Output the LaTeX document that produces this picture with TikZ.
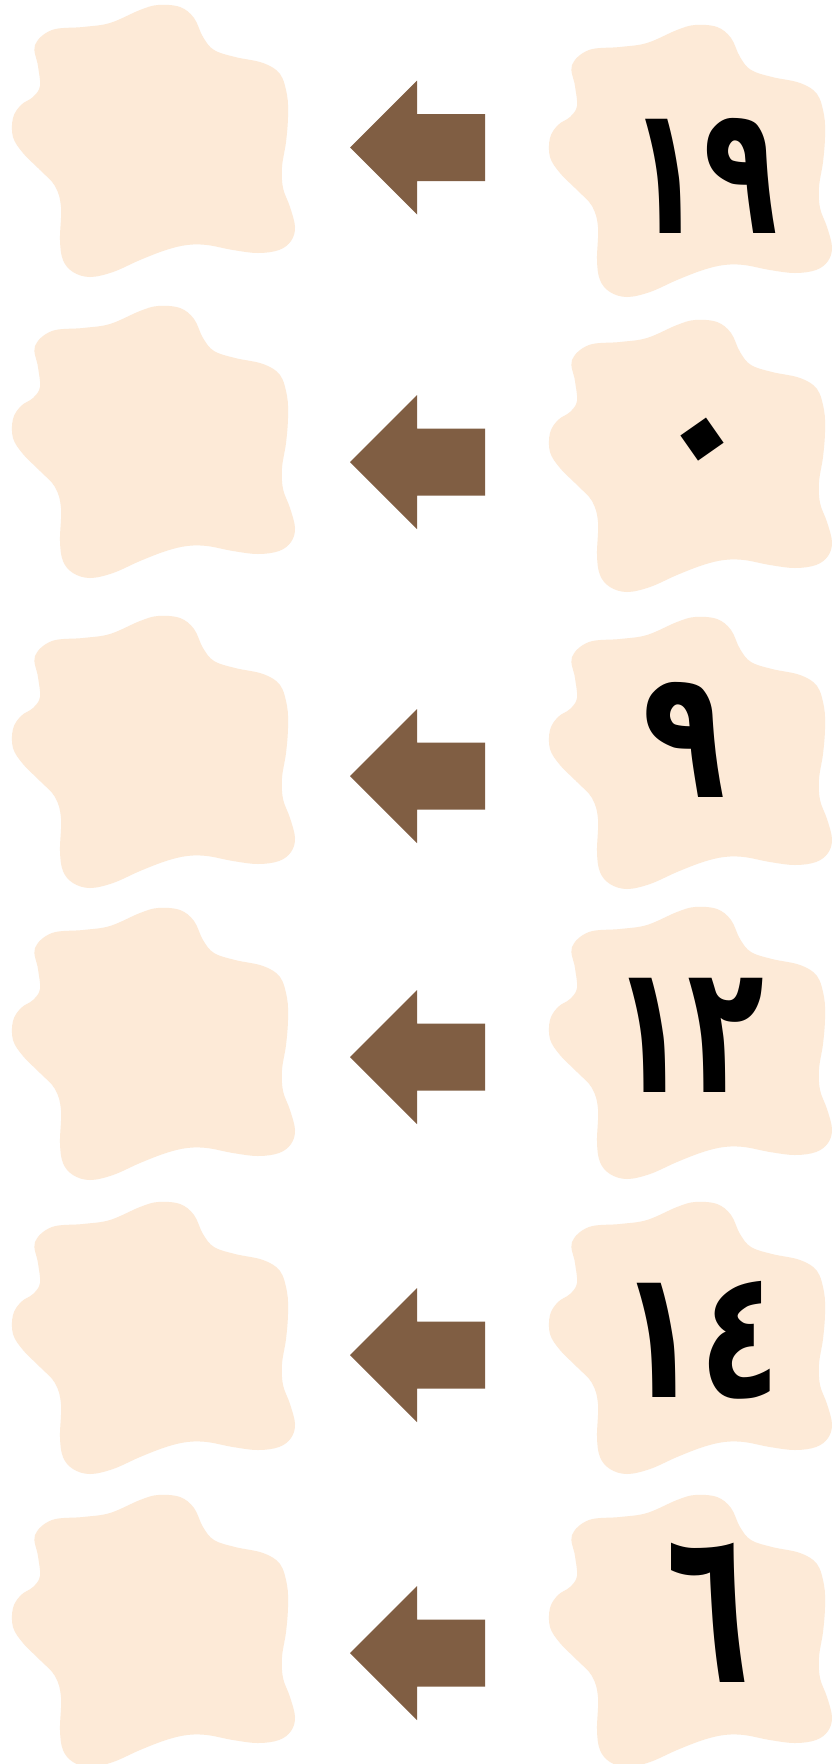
\documentclass[tikz,border=0pt]{standalone}
\usepackage{graphicx}
\usepackage{fontspec}
\newfontfamily\digitfont[Script=Arabic]{DejaVu Sans}
\definecolor{blobfill}{RGB}{253,234,215}
\definecolor{arrowbrown}{RGB}{128,94,67}
\tikzset{
  blobshape/.style={fill=blobfill, draw=none},
  blockarrow/.style={fill=arrowbrown, draw=none},
  digit/.style={inner sep=0pt, anchor=base, font=\digitfont\bfseries\fontsize{180}{180}\selectfont, text=black}
}
\newcommand{\myblob}[3]{%
  \fill[blobshape, shift={(#1,#2)}] plot[smooth cycle, tension=0.6] coordinates {
    (35,45) (52,30) (83,27) (110,23) (140,10) (158,5) (180,7) (194,18) (203,37)
    (214,50) (235,57) (263,63) (280,74) (287,95) (288,117) (286,142) (282,167)
    (283,188) (290,207) (295,227) (291,241) (279,250) (258,253) (233,250)
    (207,245) (187,245) (166,250) (140,260) (113,272) (90,277) (73,272)
    (63,260) (60,240) (61,207) (55,186) (40,170) (23,153) (13,137) (13,118)
    (21,105) (33,97) (40,86) (38,66)};
  \coordinate (#3) at ({#1+153},{#2+140});
}
\newcommand{\myarrow}[2]{%
  \fill[blockarrow] (350,#1) -- (417,{#1-67}) -- (417,{#1-33.5}) -- (485,{#1-33.5})
    -- (485,{#1+33.5}) -- (417,{#1+33.5}) -- (417,{#1+67}) -- cycle;
  \coordinate (#2) at (417,#1);
}
\newcommand{\dig}[3]{\scalebox{#1}[#2]{#3}}
\begin{document}
\begin{tikzpicture}[x=1pt,y=-1pt]
\useasboundingbox[fill=white] (0,0) rectangle (831,1764);
% left blobs
\myblob{0}{0}{L1}
\myblob{0}{301}{L2}
\myblob{0}{611}{L3}
\myblob{0}{903}{L4}
\myblob{0}{1197}{L5}
\myblob{0}{1490}{L6}
% right blobs
\myblob{537}{20}{R1}
\myblob{537}{315}{R2}
\myblob{537}{612}{R3}
\myblob{537}{902}{R4}
\myblob{537}{1197}{R5}
\myblob{537}{1490}{R6}
% arrows
\myarrow{147.5}{A1}
\myarrow{462}{A2}
\myarrow{776}{A3}
\myarrow{1057}{A4}
\myarrow{1355}{A5}
\myarrow{1653}{A6}
% digits
\node[digit] (d1) at (703.5,233) {\dig{0.68}{1}{١٩}};
\node[digit, anchor=center] (d2) at (713,454) {\rotatebox[origin=c]{35}{٠}};
\node[digit] (d3) at (684,797) {\dig{0.76}{1}{٩}};
\node[digit] (d4) at (688,1092) {\dig{0.7}{1}{١٢}};
\node[digit] (d5) at (699.5,1397) {\dig{0.74}{1}{١٤}};
\node[digit] (d6) at (708,1682) {\dig{0.76}{1.22}{٦}};
\end{tikzpicture}
\end{document}
